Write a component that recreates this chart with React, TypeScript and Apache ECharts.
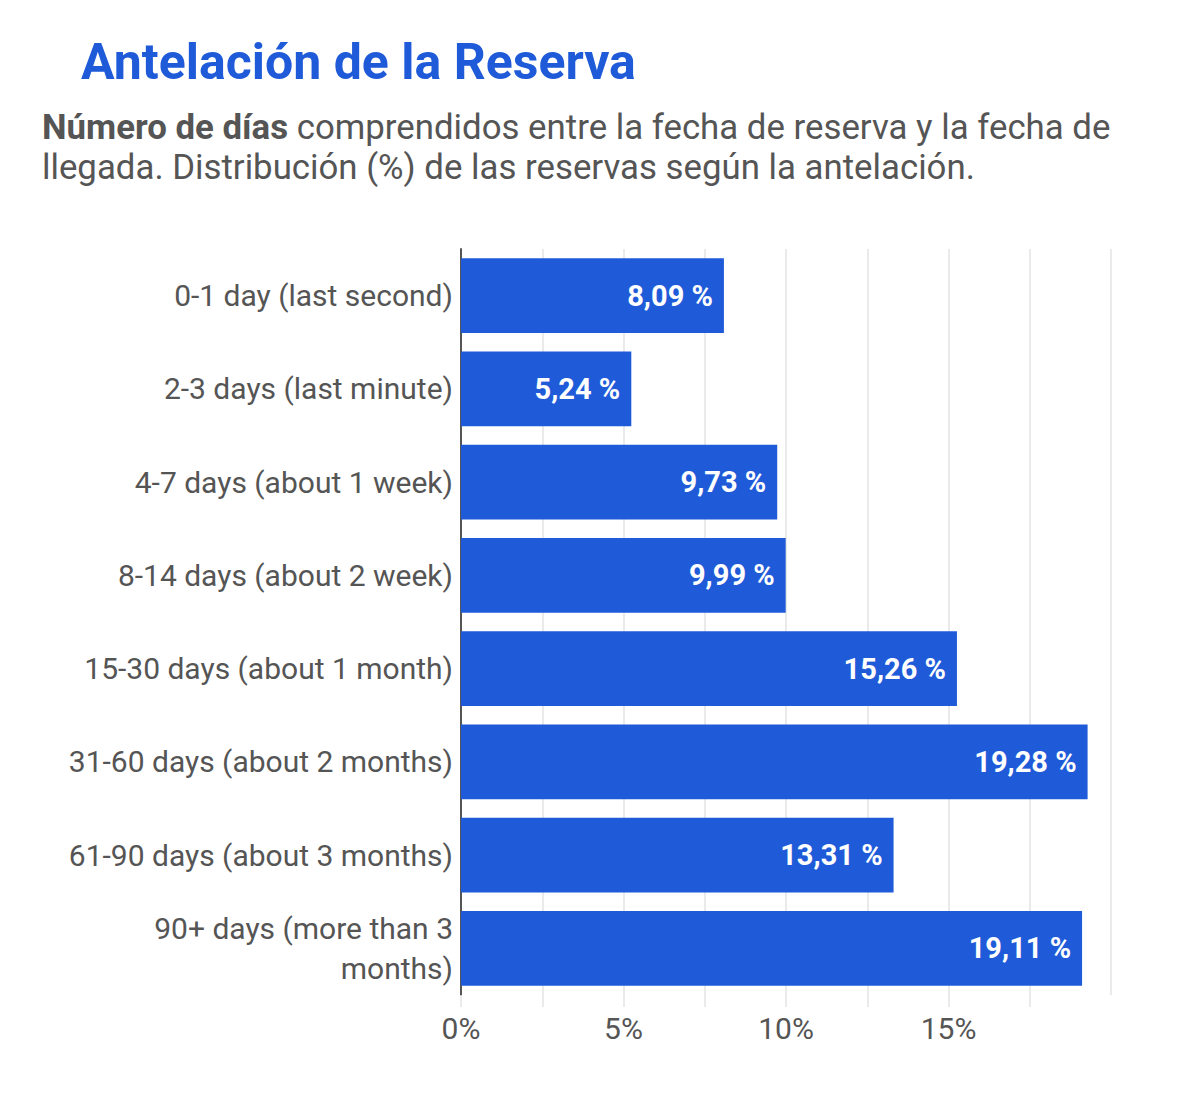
import React, { useEffect, useRef } from "react";
import * as echarts from "echarts";

const categories = [
  "0-1 day (last second)",
  "2-3 days (last minute)",
  "4-7 days (about 1 week)",
  "8-14 days (about 2 week)",
  "15-30 days (about 1 month)",
  "31-60 days (about 2 months)",
  "61-90 days (about 3 months)",
  "90+ days (more than 3\nmonths)",
];
const values = [8.09, 5.24, 9.73, 9.99, 15.26, 19.28, 13.31, 19.11];
const titleText = "Antelación de la Reserva";
const subtitleBold = "Número de días";
const subtitleRest1 = " comprendidos entre la fecha de reserva y la fecha de";
const subtitleLine2 = "llegada. Distribución (%) de las reservas según la antelación.";

const FONT = "Roboto, 'Noto Sans', sans-serif";
const BLUE = "#1f5bd8";
const GRAY = "#555555";

export default function App() {
  const ref = useRef<HTMLDivElement>(null);
  useEffect(() => {
    if (!ref.current) return;
    const chart = echarts.init(ref.current, null, { renderer: "svg" });
    chart.setOption({
      animation: false,
      backgroundColor: "#ffffff",
      title: [
        {
          text: titleText,
          left: 76,
          top: 32,
          textStyle: { color: BLUE, fontSize: 50, fontWeight: "bold", fontFamily: FONT },
        },
        {
          text: `{b|${subtitleBold}}{n|${subtitleRest1}}\n{n|${subtitleLine2}}`,
          left: 37,
          top: 102,
          textStyle: {
            fontFamily: FONT,
            fontWeight: "normal",
            rich: {
              b: { fontSize: 34.8, fontWeight: "bold", color: GRAY, fontFamily: FONT, lineHeight: 40 },
              n: { fontSize: 34.8, fontWeight: "normal", color: GRAY, fontFamily: FONT, lineHeight: 40 },
            },
          },
        },
      ],
      grid: { left: 461, right: 89, top: 249, bottom: 121, containLabel: false },
      xAxis: {
        type: "value",
        min: 0,
        max: 20,
        interval: 2.5,
        axisLine: { show: false },
        axisTick: { show: true, length: 12, lineStyle: { color: "#e3e3e3", width: 1.5 } },
        splitLine: { show: true, lineStyle: { color: "#e3e3e3", width: 1.5 } },
        axisLabel: {
          margin: 18,
          color: GRAY,
          fontSize: 30,
          fontFamily: FONT,
          showMaxLabel: false,
          formatter: (v: number) => (v % 5 === 0 && v < 20 ? `${v}%` : ""),
        },
      },
      yAxis: {
        type: "category",
        data: categories,
        inverse: true,
        axisLine: { show: true, lineStyle: { color: "#555555", width: 2 } },
        axisTick: { show: false },
        axisLabel: {
          margin: 8,
          color: GRAY,
          fontSize: 30,
          lineHeight: 40,
          fontFamily: FONT,
          align: "right",
        },
      },
      series: [
        {
          type: "bar",
          data: values,
          barCategoryGap: "20%",
          itemStyle: { color: BLUE },
          label: {
            show: true,
            position: "insideRight",
            distance: 11,
            color: "#ffffff",
            fontSize: 29,
            fontWeight: "bold",
            fontFamily: FONT,
            formatter: (p: any) => `${Number(p.value).toFixed(2).replace(".", ",")} %`,
          },
        },
      ],
    });
    return () => chart.dispose();
  }, []);
  return (
    <div
      ref={ref}
      style={{ position: "absolute", left: 0, top: 0, width: 1200, height: 1116 }}
    />
  );
}
